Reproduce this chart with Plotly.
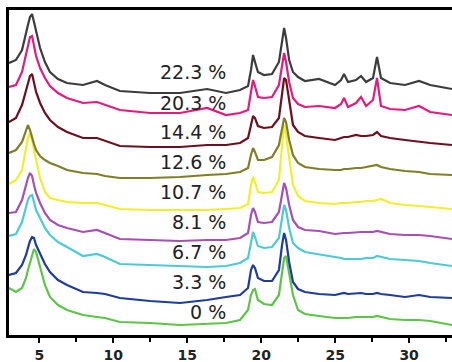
import plotly.graph_objects as go

# 2-theta positions (degrees) at which the patterns were read
two_theta = [2.95, 3.42, 3.83, 4.10, 4.23, 4.37, 4.51, 4.64, 4.78, 5.05, 5.38, 5.72, 6.26, 6.87,
             7.95, 8.90, 9.44, 10.45, 12.48, 14.51, 16.34, 17.62, 18.57, 19.11, 19.31, 19.45,
             19.58, 19.78, 20.19, 20.73, 21.20, 21.41, 21.55, 21.68, 21.89, 22.15, 22.49, 22.96,
             23.91, 24.99, 25.40, 25.60, 25.87, 26.41, 26.75, 27.09, 27.56, 27.83, 28.10, 28.71,
             29.72, 30.67, 31.42, 32.90]

# stacked intensities (a.u., offset included)
i_22_3 = [63, 60, 50, 35, 25, 17, 14, 22, 32, 48, 62, 72, 79, 83, 85, 81, 85, 91, 93, 93, 89, 93,
          90, 86, 70, 55, 62, 72, 75, 74, 62, 40, 28, 38, 60, 72, 77, 81, 79, 85, 80, 74, 82, 80,
          76, 82, 78, 57, 78, 83, 85, 81, 85, 89]
i_20_3 = [87, 85, 72, 55, 45, 37, 36, 45, 56, 68, 78, 86, 93, 98, 103, 102, 105, 110, 113, 113,
          108, 115, 113, 110, 92, 80, 86, 97, 98, 97, 85, 65, 53, 62, 82, 98, 104, 107, 106, 108,
          104, 98, 107, 103, 97, 106, 100, 78, 106, 109, 110, 106, 112, 115]
i_14_4 = [122, 118, 105, 90, 82, 76, 74, 82, 92, 103, 113, 120, 127, 132, 138, 138, 141, 146,
          147, 147, 145, 145, 143, 138, 125, 116, 118, 126, 128, 127, 118, 95, 78, 80, 102, 125,
          132, 136, 138, 140, 138, 137, 137, 135, 136, 136, 135, 132, 136, 138, 140, 142, 143, 145]
i_12_6 = [153, 150, 142, 130, 125, 130, 138, 144, 150, 156, 160, 163, 166, 170, 173, 174, 176,
          178, 178, 177, 175, 174, 172, 168, 155, 148, 152, 160, 160, 157, 145, 128, 118, 122,
          140, 155, 163, 167, 169, 170, 170, 169, 169, 168, 168, 167, 166, 165, 167, 169, 171,
          172, 174, 175]
i_10_7 = [184, 180, 170, 150, 138, 133, 140, 150, 160, 178, 192, 198, 200, 202, 203, 203, 205,
          209, 210, 210, 210, 209, 208, 204, 185, 177, 182, 192, 193, 192, 180, 145, 125, 135,
          160, 185, 196, 201, 203, 204, 203, 203, 203, 202, 202, 201, 201, 200, 199, 203, 205,
          206, 207, 209]
i_8_1 = [213, 212, 200, 185, 178, 173, 176, 185, 193, 203, 213, 220, 225, 228, 232, 230, 233,
         239, 240, 241, 240, 240, 238, 233, 215, 208, 212, 222, 223, 222, 212, 195, 183, 188,
         205, 220, 227, 230, 231, 234, 233, 233, 233, 232, 232, 232, 232, 231, 232, 234, 235,
         235, 236, 239]
i_6_7 = [236, 234, 222, 208, 200, 196, 195, 202, 210, 218, 228, 235, 242, 247, 256, 254, 257,
         264, 265, 266, 267, 266, 263, 258, 240, 232, 237, 246, 248, 247, 238, 215, 205, 210,
         228, 243, 248, 252, 254, 257, 258, 259, 259, 259, 259, 258, 258, 256, 257, 259, 260,
         261, 263, 266]
i_3_3 = [275, 273, 265, 255, 248, 241, 237, 238, 245, 253, 264, 272, 280, 285, 292, 293, 294,
         298, 301, 303, 300, 297, 295, 288, 270, 265, 268, 278, 281, 281, 270, 245, 233, 240,
         262, 282, 289, 292, 294, 295, 294, 293, 294, 293, 293, 294, 294, 293, 294, 295, 297,
         295, 297, 298]
i_0 = [288, 292, 288, 278, 270, 262, 254, 249, 252, 267, 285, 297, 305, 310, 315, 317, 318, 322,
       323, 325, 324, 323, 320, 310, 295, 290, 289, 300, 304, 305, 295, 272, 258, 256, 275, 295,
       310, 314, 316, 318, 318, 318, 318, 317, 317, 317, 317, 316, 317, 319, 320, 320, 321, 325]

labels = ["22.3 %", "20.3 %", "14.4 %", "12.6 %", "10.7 %", "8.1 %", "6.7 %", "3.3 %", "0 %"]
label_y = [263, 232, 203, 173, 143, 113, 83, 53, 23]
series = [i_22_3, i_20_3, i_14_4, i_12_6, i_10_7, i_8_1, i_6_7, i_3_3, i_0]
colors = ["#3c3c3c", "#e8197d", "#6e0f1f", "#7f7f27", "#f2ef2a", "#a84fb4", "#4ccbd6",
          "#1f3c9c", "#5cc548"]

FLIP = 335  # intensities above are measured downward from this level
fig = go.Figure()
for name, vals, col in reversed(list(zip(labels, series, colors))):
    fig.add_trace(go.Scatter(x=two_theta, y=[FLIP - v for v in vals], mode="lines",
                             line=dict(color=col, width=2.2), name=name, showlegend=False))

for lab, ly in zip(labels, label_y):
    fig.add_annotation(x=17.76, y=ly, text=lab, showarrow=False, xanchor="right",
                       yanchor="middle", font=dict(family="DejaVu Sans", size=19, color="#222"))

fig.update_layout(
    width=452, height=362, margin=dict(l=9, r=0, t=10, b=27, autoexpand=False),
    plot_bgcolor="white", paper_bgcolor="white",
    xaxis=dict(range=[2.95, 32.9], tick0=0, dtick=5, ticks="outside", ticklen=5, tickwidth=2,
               tickcolor="black", showline=True, linecolor="black", linewidth=2.5, mirror=True,
               showgrid=False, zeroline=False, automargin=False,
               tickfont=dict(family="DejaVu Sans", size=14, color="#222", weight="bold"),
               minor=dict(dtick=2.5, ticks="outside", ticklen=4, tickwidth=2, tickcolor="black",
                          showgrid=False)),
    yaxis=dict(range=[0, 325], showline=True, linecolor="black", linewidth=2.5,
               showticklabels=False, ticks="", showgrid=False, zeroline=False, automargin=False),
)
fig.write_html("out.html")
